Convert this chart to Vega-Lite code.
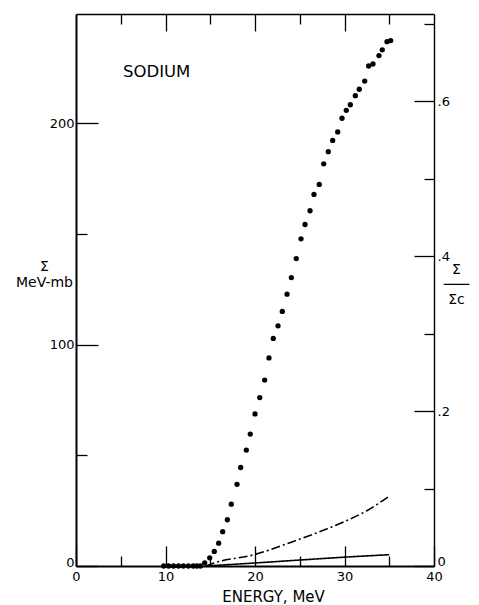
{
  "$schema": "https://vega.github.io/schema/vega-lite/v6.json",
  "autosize": {"type": "none"},
  "padding": {"left": 76, "top": 14, "right": 45, "bottom": 39},
  "width": 358,
  "height": 552,
  "background": "white",
  "config": {
    "view": {"stroke": null},
    "axis": {
      "grid": false,
      "domainColor": "black",
      "domainWidth": 1.4,
      "tickColor": "black",
      "tickWidth": 1.3,
      "labelColor": "black",
      "titleColor": "black",
      "labelFont": "DejaVu Sans",
      "titleFont": "DejaVu Sans",
      "labelFontSize": 13,
      "titleFontWeight": "normal"
    }
  },
  "datasets": {
    "sigma": [
      {"E": 9.8, "S": 0}, {"E": 10.35, "S": 0}, {"E": 10.9, "S": 0}, {"E": 11.45, "S": 0},
      {"E": 12.0, "S": 0}, {"E": 12.55, "S": 0}, {"E": 13.1, "S": 0}, {"E": 13.5, "S": 0},
      {"E": 13.9, "S": 0},
      {"E": 14.38, "S": 1.45}, {"E": 14.94, "S": 3.7}, {"E": 15.45, "S": 6.6},
      {"E": 15.94, "S": 10.3}, {"E": 16.39, "S": 15.5}, {"E": 16.91, "S": 20.9},
      {"E": 17.35, "S": 27.95}, {"E": 17.99, "S": 36.9}, {"E": 18.4, "S": 44.5},
      {"E": 19.03, "S": 52.4}, {"E": 19.47, "S": 59.6}, {"E": 20.0, "S": 68.7},
      {"E": 20.53, "S": 76.1}, {"E": 21.08, "S": 84.0}, {"E": 21.56, "S": 94.0},
      {"E": 22.04, "S": 102.8}, {"E": 22.57, "S": 108.5}, {"E": 23.05, "S": 115.0},
      {"E": 23.58, "S": 122.8}, {"E": 24.06, "S": 130.3}, {"E": 24.61, "S": 138.9},
      {"E": 25.14, "S": 147.8}, {"E": 25.59, "S": 154.3}, {"E": 26.15, "S": 160.5},
      {"E": 26.59, "S": 167.9}, {"E": 27.18, "S": 172.4}, {"E": 27.68, "S": 181.7},
      {"E": 28.19, "S": 187.2}, {"E": 28.68, "S": 192.3}, {"E": 29.24, "S": 196.1},
      {"E": 29.72, "S": 202.3}, {"E": 30.2, "S": 205.9}, {"E": 30.65, "S": 208.4},
      {"E": 31.21, "S": 212.5}, {"E": 31.65, "S": 215.4}, {"E": 32.26, "S": 219.1},
      {"E": 32.7, "S": 225.9}, {"E": 33.18, "S": 226.8}, {"E": 33.85, "S": 230.6},
      {"E": 34.22, "S": 233.2}, {"E": 34.75, "S": 236.9}, {"E": 35.16, "S": 237.4}
    ],
    "ratio": [
      {"E": 14.5, "R": 0, "series": "dashdot"},
      {"E": 15.34, "R": 0.0036, "series": "dashdot"},
      {"E": 19.9, "R": 0.0146, "series": "dashdot"},
      {"E": 24.8, "R": 0.0339, "series": "dashdot"},
      {"E": 29.9, "R": 0.0569, "series": "dashdot"},
      {"E": 32.5, "R": 0.0714, "series": "dashdot"},
      {"E": 35.05, "R": 0.0906, "series": "dashdot"},
      {"E": 14.5, "R": 0, "series": "solid"},
      {"E": 20.0, "R": 0.0039, "series": "solid"},
      {"E": 25.0, "R": 0.0077, "series": "solid"},
      {"E": 30.0, "R": 0.0114, "series": "solid"},
      {"E": 35.0, "R": 0.0146, "series": "solid"}
    ]
  },
  "resolve": {"scale": {"x": "independent", "y": "independent"}},
  "layer": [
    {
      "data": {"name": "sigma"},
      "encoding": {
        "x": {
          "field": "E",
          "type": "quantitative",
          "scale": {"domain": [0, 40], "nice": false},
          "axis": {
            "orient": "bottom",
            "domainWidth": 2,
            "values": [0, 5, 10, 15, 20, 25, 30, 35, 40],
            "tickSize": {"condition": {"test": "datum.value % 10 === 0", "value": -20}, "value": -10},
            "labelExpr": "datum.value % 10 === 0 ? datum.label : ''",
            "labelPadding": 24,
            "labelFlush": false,
            "title": "ENERGY, MeV",
            "titleFontSize": 15,
            "titleX": 197,
            "titleY": 30,
            "titleAlign": "center",
            "titleBaseline": "middle"
          }
        },
        "y": {
          "field": "S",
          "type": "quantitative",
          "scale": {"domain": [0, 249.4], "nice": false},
          "axis": {
            "orient": "left",
            "domainWidth": 2,
            "values": [0, 50, 100, 150, 200],
            "tickSize": {"condition": {"test": "datum.value % 100 === 0", "value": -22}, "value": -11},
            "labelExpr": "datum.value % 100 === 0 ? datum.label : ''",
            "labelOffset": {"condition": {"test": "datum.value === 0", "value": -4}, "value": 0},
            "labelPadding": 24,
            "labelFlush": false,
            "title": ["Σ", "MeV-mb"],
            "titleFontSize": 14,
            "titleLineHeight": 16,
            "titleAngle": 0,
            "titleX": -32,
            "titleY": 252,
            "titleAlign": "center",
            "titleBaseline": "middle"
          }
        }
      },
      "layer": [
        {"mark": {"type": "point", "filled": true, "shape": "circle", "size": 28, "color": "black", "opacity": 1}},
        {
          "data": {"values": [{"E": 5.25, "S": 223.3, "label": "SODIUM"}]},
          "mark": {"type": "text", "align": "left", "baseline": "middle", "font": "DejaVu Sans", "fontSize": 16.5, "color": "black"},
          "encoding": {"text": {"field": "label"}}
        }
      ]
    },
    {
      "data": {"name": "ratio"},
      "mark": {"type": "line", "color": "black", "strokeWidth": 1.6, "interpolate": "monotone"},
      "encoding": {
        "x": {
          "field": "E",
          "type": "quantitative",
          "scale": {"domain": [0, 40], "nice": false},
          "axis": {
            "orient": "top",
            "values": [5, 10, 15, 20, 25, 30, 35],
            "tickSize": {"condition": {"test": "datum.value % 10 === 0", "value": -17}, "value": -10},
            "labels": false,
            "title": null
          }
        },
        "y": {
          "field": "R",
          "type": "quantitative",
          "scale": {"domain": [0, 0.7126], "nice": false},
          "axis": {
            "orient": "right",
            "values": [0, 0.1, 0.2, 0.3, 0.4, 0.5, 0.6, 0.7],
            "tickSize": {"condition": {"test": "round(datum.value * 10) % 2 === 0", "value": -20}, "value": -10},
            "labelExpr": "datum.value === 0 ? '0' : (round(datum.value * 10) % 2 === 0 ? '.' + round(datum.value * 10) : '')",
            "labelOffset": {"condition": {"test": "datum.value === 0", "value": -5}, "value": 0},
            "labelPadding": 23,
            "labelFlush": false,
            "title": ["Σ", "───", "Σc"],
            "titleFontSize": 14,
            "titleLineHeight": 15,
            "titleAngle": 0,
            "titleX": 22,
            "titleY": 255,
            "titleAlign": "center",
            "titleBaseline": "middle"
          }
        },
        "detail": {"field": "series"},
        "strokeDash": {
          "field": "series",
          "type": "nominal",
          "scale": {"domain": ["solid", "dashdot"], "range": [[1, 0], [9, 3, 2, 3]]},
          "legend": null
        }
      }
    }
  ]
}
